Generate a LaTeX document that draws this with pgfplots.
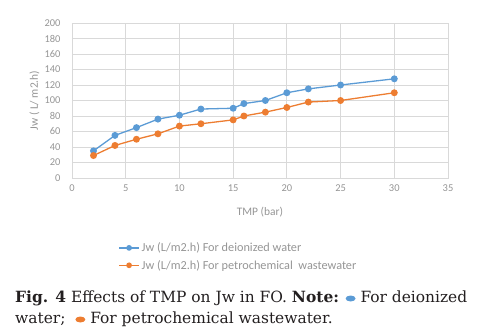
\documentclass[border=0pt]{standalone}
\usepackage{pgfplots}
\pgfplotsset{compat=1.18}
\usetikzlibrary{calc}
\usepackage{fontspec}
\setmainfont{Carlito}
\newfontfamily\capfont{DejaVu Serif}
\definecolor{xblue}{HTML}{5B9BD5}
\definecolor{xorange}{HTML}{ED7D31}
\definecolor{xgray}{HTML}{959595}
\definecolor{xgrid}{HTML}{D9D9D9}
\definecolor{captxt}{HTML}{231F20}
\begin{document}
\begin{tikzpicture}[x=1bp,y=1bp]
\begin{axis}[
  scale only axis, width=376bp, height=155bp,
  xmin=0, xmax=35, ymin=0, ymax=200,
  xtick={0,5,...,35}, ytick={0,20,...,200},
  grid=major, grid style={xgrid, line width=0.8pt},
  axis line style={xgrid, line width=0.8pt},
  tick style={draw=none},
  ticklabel style={font=\fontsize{10.5}{12}\selectfont, text=xgray},
  yticklabel style={xshift=-8bp},
  xticklabel style={yshift=-3bp},
  /pgf/number format/assume math mode=true,
  xlabel={TMP (bar)}, ylabel={Jw ( L/ m2.h)},
  label style={font=\fontsize{11.5}{13}\selectfont, text=xgray},
  xlabel style={at={(axis description cs:0.5,-0.22)}, anchor=center},
  ylabel style={at={(axis description cs:-0.1,0.5)}, anchor=center},
  legend cell align=left,
  legend image code/.code={\draw[mark repeat=2,mark phase=2,mark size=2.2pt] plot coordinates {(0bp,0bp) (10bp,0bp) (20bp,0bp)};},
  legend style={at={(axis description cs:0.115,-0.39)}, anchor=north west, draw=none, fill=none,
    font=\fontsize{12.3}{13}\selectfont, text=xgray, row sep=3pt,
    nodes={inner xsep=2bp}},
]
\coordinate (O) at (rel axis cs:0,0);
\addplot[xblue, line width=1.3pt, mark=*, mark size=2.8pt] coordinates {
(2,35) (4,55) (6,65) (8,76) (10,81) (12,89) (15,90) (16,96) (18,100) (20,110) (22,115) (25,120) (30,128)};
\addlegendentry{Jw (L/m2.h) For deionized water}
\addplot[xorange, line width=1.3pt, mark=*, mark size=2.8pt] coordinates {
(2,29) (4,42) (6,50) (8,57) (10,67) (12,70) (15,75) (16,80) (18,85) (20,91) (22,98) (25,100) (30,110)};
\addlegendentry{Jw (L/m2.h) For petrochemical\ \ wastewater}
\end{axis}
\coordinate (BL) at ($(O)+(-72,-155)$);
\path[use as bounding box] (BL) rectangle ++(478,333);
\node[anchor=base west, inner sep=0, text=captxt, font=\capfont\fontsize{15.5}{18}\selectfont] at ($(BL)+(15,31)$)
 {\textbf{Fig. 4} Effects of TMP on Jw in FO. \textbf{Note:} \tikz[baseline=-0.5bp]\fill[xblue] (0,3) ellipse (5bp and 3bp); For deionized};
\node[anchor=base west, inner sep=0, text=captxt, font=\capfont\fontsize{15.5}{18}\selectfont] at ($(BL)+(15,10)$)
 {water;\ \ \tikz[baseline=-0.5bp]\fill[xorange] (0,3) ellipse (5bp and 3bp); For petrochemical wastewater.};
\end{tikzpicture}
\end{document}
